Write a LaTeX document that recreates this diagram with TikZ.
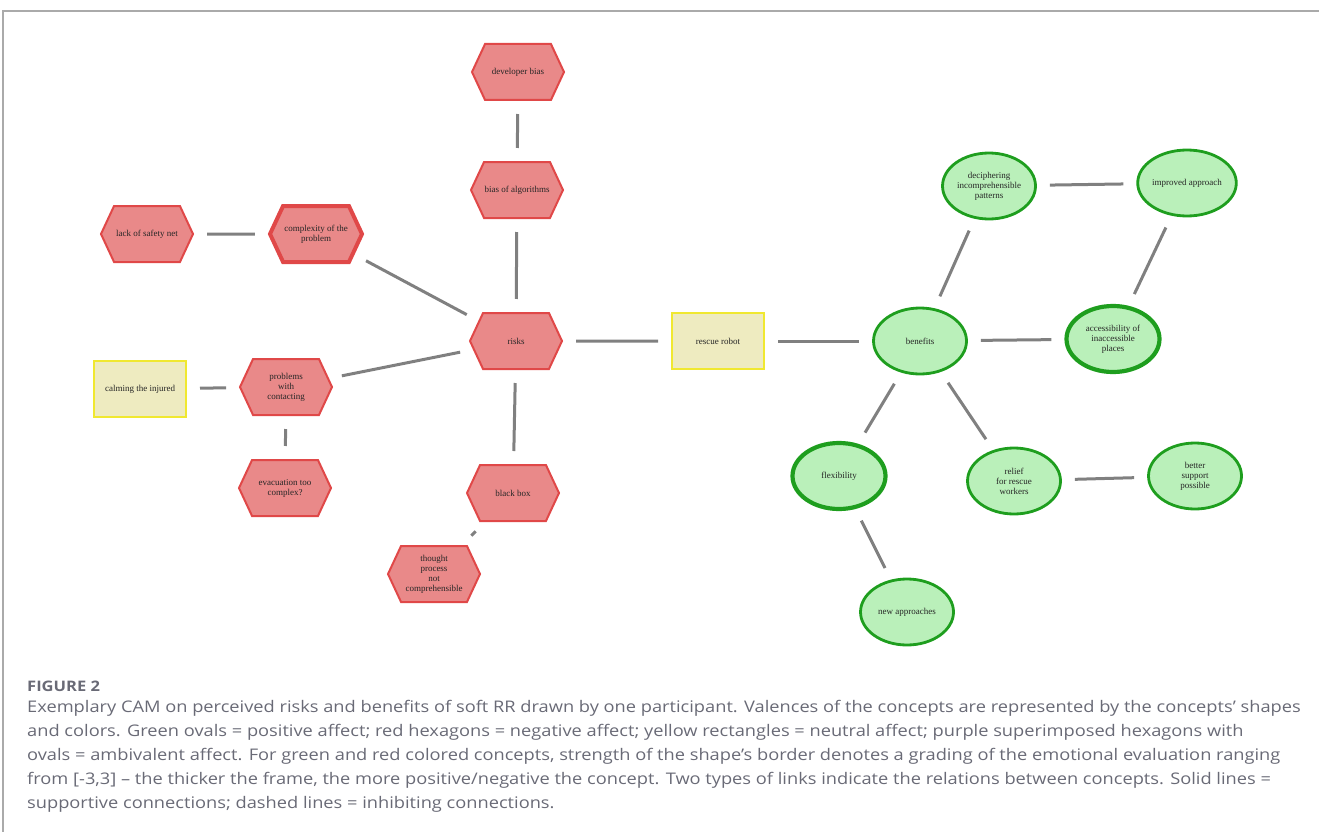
\documentclass[tikz,border=0pt]{standalone}
\usepackage{fontspec}
\usetikzlibrary{shapes.geometric,shapes.symbols}
\newfontfamily\camfont{Liberation Serif}
\newfontfamily\capfont[FakeStretch=1.14]{Open Sans}
\newcommand{\cam}{\camfont\fontsize{9}{10}\selectfont}
\newcommand{\capt}{\capfont\fontsize{16}{24}\selectfont}
\definecolor{negfill}{RGB}{233,137,137}
\definecolor{negline}{RGB}{224,72,72}
\definecolor{posfill}{RGB}{186,240,186}
\definecolor{posline}{RGB}{30,158,30}
\definecolor{neufill}{RGB}{238,235,192}
\definecolor{neuline}{RGB}{240,232,48}
\definecolor{linkgray}{RGB}{128,128,128}
\definecolor{capgray}{RGB}{105,106,118}
\definecolor{framegray}{RGB}{170,170,170}
\tikzset{
   negnode/.style={shape=signal,signal to=east and west,signal pointer angle=130,
      fill=negfill,draw=negline,line width=2pt,minimum width=92pt,minimum height=56pt,
      inner sep=0pt,align=center,text=black!85,font=\cam},
   negthick/.style={negnode,line width=4pt},
   posnode/.style={ellipse,fill=posfill,draw=posline,line width=2.8pt,minimum width=93pt,
      minimum height=66pt,inner sep=0pt,align=center,text=black!85,font=\cam},
   posthick/.style={posnode,line width=4.2pt},
   neunode/.style={rectangle,fill=neufill,draw=neuline,line width=2pt,minimum width=92pt,
      minimum height=56pt,inner sep=0pt,align=center,text=black!85,font=\cam},
   link/.style={draw=linkgray,line width=3pt,shorten <=13pt,shorten >=13pt},
   capline/.style={anchor=base west,inner sep=0pt,text=capgray,font=\capt}
}

\begin{document}
\begin{tikzpicture}[x=1pt,y=-1pt]
   \useasboundingbox (0,0) rectangle (1319,832);
   \draw[framegray,line width=1.5pt] (1319,11) -- (3,11) -- (3,832);

   \node[negnode] (devbias) at (518,72) {developer bias};
   \node[negnode] (algbias) at (517,190) {bias of algorithms};
   \node[negnode] (safety) at (147,234) {lack of safety net};
   \node[negthick] (complex) at (316,234) {complexity of the\\problem};
   \node[negnode] (risks) at (516,341) {risks};
   \node[neunode] (robot) at (718,341) {rescue robot};
   \node[neunode] (calming) at (140,389) {calming the injured};
   \node[negnode] (contact) at (286,387) {problems\\with\\contacting};
   \node[negnode] (evac) at (285,488) {evacuation too\\complex?};
   \node[negnode] (blackbox) at (513,493) {black box};
   \node[negnode] (thought) at (434,574) {thought\\process\\not\\comprehensible};

   \node[posnode] (decipher) at (989,186) {deciphering\\incomprehensible\\patterns};
   \node[posnode] (improved) at (1187,183) {improved approach};
   \node[posnode] (benefits) at (920,341) {benefits};
   \node[posthick] (access) at (1113,339) {accessibility of\\inaccessible\\places};
   \node[posthick] (flex) at (839,476) {flexibility};
   \node[posnode] (relief) at (1014,481) {relief\\for rescue\\workers};
   \node[posnode] (support) at (1195,476) {better\\support\\possible};
   \node[posnode] (newappr) at (907,612) {new approaches};

   \draw[link] (devbias) -- (algbias);
   \draw[link] (algbias) -- (risks);
   \draw[link] (safety) -- (complex);
   \draw[link] (complex) -- (risks);
   \draw[link] (contact) -- (risks);
   \draw[link] (calming) -- (contact);
   \draw[link] (contact) -- (evac);
   \draw[link] (risks) -- (blackbox);
   \draw[link] (blackbox) -- (thought);
   \draw[link] (risks) -- (robot);
   \draw[link] (robot) -- (benefits);
   \draw[link] (benefits) -- (decipher);
   \draw[link] (decipher) -- (improved);
   \draw[link] (improved) -- (access);
   \draw[link] (benefits) -- (access);
   \draw[link] (benefits) -- (flex);
   \draw[link] (benefits) -- (relief);
   \draw[link] (relief) -- (support);
   \draw[link] (flex) -- (newappr);

   \node[capline,font=\capfont\bfseries\fontsize{14.5}{16}\selectfont] (figno) at (27,691) {FIGURE 2};
   \node[capline] (cap1) at (27,712) {Exemplary CAM on perceived risks and benefits of soft RR drawn by one participant. Valences of the concepts are represented by the concepts’ shapes};
   \node[capline] (cap2) at (27,736) {and colors. Green ovals = positive affect; red hexagons = negative affect; yellow rectangles = neutral affect; purple superimposed hexagons with};
   \node[capline] (cap3) at (27,760) {ovals = ambivalent affect. For green and red colored concepts, strength of the shape’s border denotes a grading of the emotional evaluation ranging};
   \node[capline] (cap4) at (27,784) {from [-3,3] – the thicker the frame, the more positive/negative the concept. Two types of links indicate the relations between concepts. Solid lines =};
   \node[capline] (cap5) at (27,808) {supportive connections; dashed lines = inhibiting connections.};
\end{tikzpicture}
\end{document}
